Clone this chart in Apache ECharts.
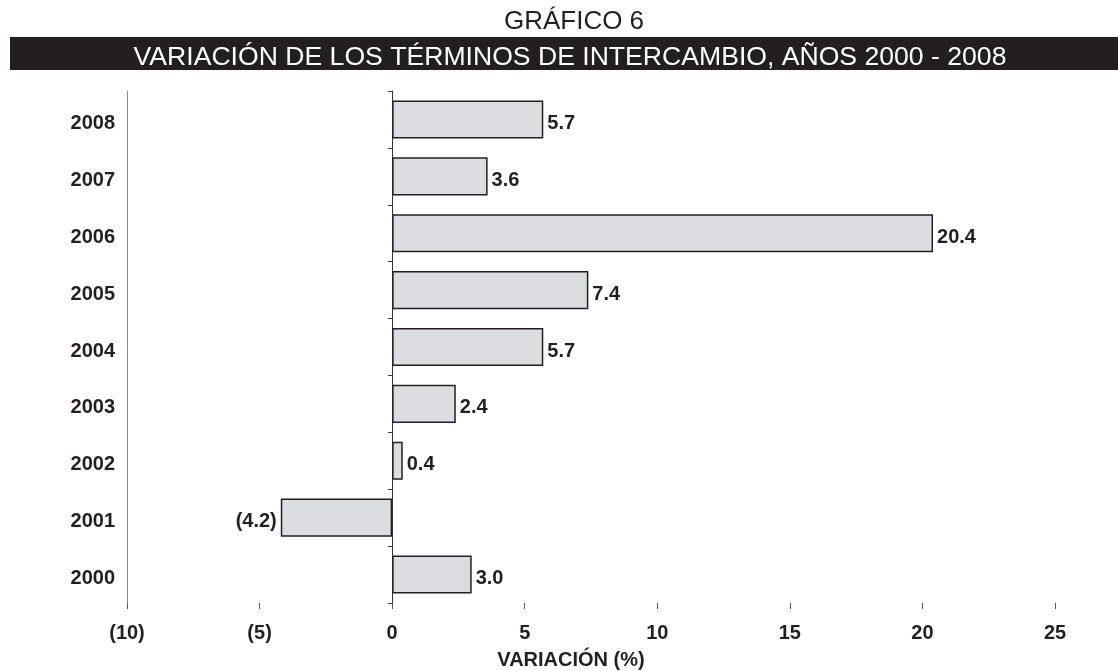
<!DOCTYPE html>
<html lang="es">
<head>
    <meta charset="UTF-8">
    <title>Gráfico 6</title>
    <script src="https://cdn.jsdelivr.net/npm/echarts@6/dist/echarts.min.js"></script>
    <style>
        html, body { margin: 0; padding: 0; background: #fff; }
    </style>
</head>
<body>
<div id="main" style="width:1118px;height:671px;"></div>
<script type="text/javascript">
    // datos del gráfico
    var years = ['2000', '2001', '2002', '2003', '2004', '2005', '2006', '2007', '2008'];
    var variacion = [3.0, -4.2, 0.4, 2.4, 5.7, 7.4, 20.4, 3.6, 5.7];
    var xMin = -10, xMax = 25, xStep = 5;

    // negativos entre paréntesis
    function fmt(v, dec) {
        var s = dec ? Math.abs(v).toFixed(1) : String(Math.abs(v));
        return v < 0 ? '(' + s + ')' : s;
    }

    var myChart = echarts.init(document.getElementById('main'));
    var txt = '#231f20';
    var font = '"Liberation Sans", Arial, sans-serif';

    var option = {
        animation: false,
        title: [
            {
                text: 'GRÁFICO 6',
                left: 569, top: 4, textAlign: 'center',
                textStyle: { fontFamily: font, fontWeight: 'normal', fontSize: 26, color: txt }
            },
            {
                text: 'VARIACIÓN DE LOS TÉRMINOS DE INTERCAMBIO, AÑOS 2000 - 2008',
                left: 565, top: 39, textAlign: 'center',
                textStyle: { fontFamily: font, fontWeight: 'normal', fontSize: 26.6, color: '#fff' }
            }
        ],
        graphic: [
            { type: 'rect', z: -1, shape: { x: 10, y: 37, width: 1108, height: 33 }, style: { fill: '#231f20' } }
        ],
        grid: { left: 127, right: 63, top: 91, bottom: 68, outerBoundsMode: 'none' },
        xAxis: {
            type: 'value',
            min: xMin, max: xMax, interval: xStep,
            name: 'VARIACIÓN (%)',
            nameLocation: 'middle',
            nameGap: 47,
            nameTextStyle: { fontFamily: font, fontWeight: 'bold', fontSize: 20, color: txt, padding: [0, 40, 0, 0] },
            axisLine: { onZero: false, lineStyle: { color: '#808080', width: 1.5 } },
            axisTick: { show: true, length: 6, lineStyle: { color: '#555' } },
            axisLabel: {
                margin: 20,
                fontFamily: font, fontWeight: 'bold', fontSize: 20, color: txt,
                formatter: function (v) { return fmt(v, false); }
            },
            splitLine: { show: false }
        },
        yAxis: [
            {
                type: 'category',
                data: years,
                axisLine: { onZero: false, lineStyle: { color: '#888', width: 1 } },
                axisTick: { show: false },
                axisLabel: {
                    margin: 12,
                    formatter: function (v) { return '{y|' + v + '}'; },
                    rich: {
                        y: { padding: [8, 0, 0, 0], fontFamily: font, fontWeight: 'bold', fontSize: 20, color: txt }
                    }
                }
            },
            {
                // eje en el cero con marcas entre categorías
                type: 'category',
                data: years,
                position: 'left',
                axisLine: { onZero: true, lineStyle: { color: '#333', width: 1 } },
                axisTick: { show: true, length: 4, lineStyle: { color: '#333' } },
                axisLabel: { show: false }
            }
        ],
        series: [
            {
                type: 'bar',
                yAxisIndex: 0,
                data: variacion.map(function (v) {
                    if (v < 0) {
                        return { value: v, label: { position: 'left' } };
                    }
                    return v;
                }),
                barCategoryGap: '33%',
                itemStyle: { color: '#dcdde0', borderColor: '#231f20', borderWidth: 1.5 },
                label: {
                    show: true,
                    position: 'right',
                    distance: 4,
                    offset: [0, 4],
                    fontFamily: font, fontWeight: 'bold', fontSize: 20, color: txt,
                    formatter: function (p) { return fmt(p.value, true); }
                }
            }
        ]
    };

    myChart.setOption(option);
</script>
</body>
</html>
